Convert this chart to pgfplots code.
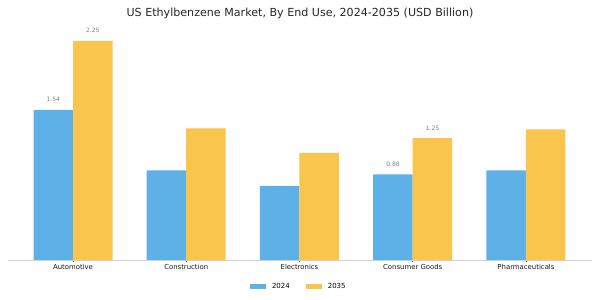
\documentclass[border=0pt]{standalone}
\usepackage{pgfplots}
\pgfplotsset{compat=1.18}
\usepackage{fontspec}
\setmainfont{DejaVu Sans}
\definecolor{cblue}{RGB}{93,177,230}
\definecolor{cyellow}{RGB}{249,197,76}
\definecolor{lblgray}{RGB}{128,128,128}
\definecolor{axgray}{RGB}{210,210,210}
\begin{document}
\begin{tikzpicture}
\useasboundingbox (0,0) rectangle (600pt,300pt);
\node[font=\fontsize{11.1}{13}\selectfont, text=black!85] at (300pt,287pt) {US Ethylbenzene Market, By End Use, 2024-2035 (USD Billion)};
\begin{axis}[
  at={(8pt,40pt)}, anchor=south west,
  scale only axis, width=584pt, height=233.8pt,
  ymin=0, ymax=2.4,
  xmin=-0.574, xmax=4.583,
  ybar=0pt, bar width=39.5pt,
  axis y line=none,
  axis x line*=bottom,
  x axis line style={axgray, line width=0.8pt, -},
  xtick=data,
  xticklabels={Automotive,Construction,Electronics,Consumer Goods,Pharmaceuticals},
  xticklabel style={font=\fontsize{6.9}{8}\selectfont, text=black!90, inner sep=1pt, yshift=-1.5pt},
  major tick length=2pt,
  tick style={black!60, line width=0.5pt},
  point meta=explicit symbolic,
  nodes near coords={\pgfplotspointmeta},
  nodes near coords style={font=\fontsize{6}{7}\selectfont, text=lblgray, yshift=4.5pt},
  legend columns=2,
  legend style={at={(0.498,-0.1133)}, anchor=center, draw=none, fill=none,
    font=\fontsize{7}{8}\selectfont,
    /tikz/every odd column/.append style={column sep=4pt},
    /tikz/every even column/.append style={column sep=14pt}},
  legend image code/.code={\fill[#1] (0pt,-2.8pt) rectangle (16pt,2.8pt);},
]
\addplot[fill=cblue, draw=none] coordinates {
 (0,1.54) [1.54]
 (1,0.92) []
 (2,0.76) []
 (3,0.88) [0.88]
 (4,0.92) []
};
\addplot[fill=cyellow, draw=none] coordinates {
 (0,2.25) [2.25]
 (1,1.35) []
 (2,1.10) []
 (3,1.25) [1.25]
 (4,1.34) []
};
\legend{2024,2035}
\end{axis}
\end{tikzpicture}
\end{document}
